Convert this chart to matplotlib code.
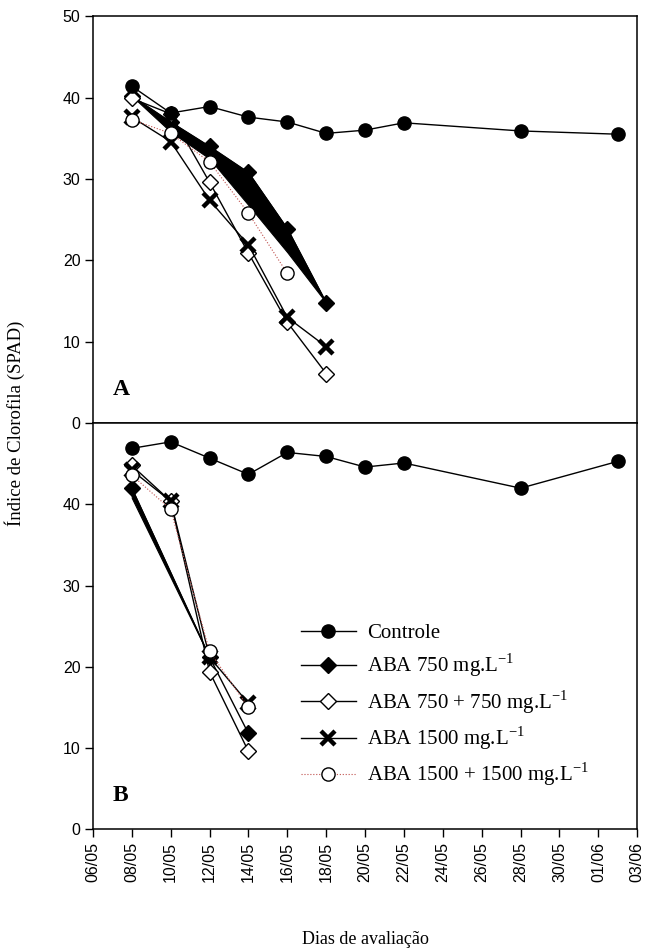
import matplotlib
matplotlib.use('Agg')
import matplotlib.pyplot as plt
import matplotlib.dates as mdates
import pandas as pd

plt.rcParams['font.family'] = 'Liberation Sans'
plt.rcParams['mathtext.fontset'] = 'custom'
plt.rcParams['mathtext.rm'] = 'Liberation Serif'


def dt(days):
    return pd.to_datetime([d + '/2012' for d in days], format='%d/%m/%Y')


# Datas de avaliacao
ctrl_days = ['08/05', '10/05', '12/05', '14/05', '16/05', '18/05',
             '20/05', '22/05', '28/05', '02/06']
trat_days_a = ['08/05', '10/05', '12/05', '14/05', '16/05', '18/05']
trat_days_b = ['08/05', '10/05', '12/05', '14/05']

# Painel A
ctrl_a = [41.4, 38.1, 38.9, 37.6, 37.0, 35.6, 36.0, 36.9, 35.9, 35.5]
aba750_a = [40.2, 37.0, 34.0, 30.8, 23.9, 14.8]
aba750_a_band = [40.2, 35.8, 32.5, 26.8, 21.0, 14.8]
aba750x2_a = [39.9, 38.0, 29.6, 20.9, 12.4, 6.1]
aba1500_a = [37.6, 34.6, 27.4, 21.9, 13.0, 9.4]
aba1500x2_a = [37.3, 35.6, 32.1, 25.8, 18.4]

# Painel B
ctrl_b = [46.9, 47.7, 45.7, 43.7, 46.4, 45.9, 44.6, 45.1, 42.0, 45.3]
aba750_b_days = ['08/05', '12/05', '14/05']
aba750_b = [42.0, 21.2, 11.8]
aba750_b_band_days = ['08/05', '12/05']
aba750_b_band = [40.8, 21.2]
aba750x2_b = [44.8, 40.4, 19.4, 9.6]
aba1500_b = [44.2, 40.4, 21.2, 15.5]
aba1500x2_b = [43.6, 39.4, 21.9, 15.0]

labels = ['Controle',
          'ABA 750 mg.L$^{\\mathregular{-1}}$',
          'ABA 750 + 750 mg.L$^{\\mathregular{-1}}$',
          'ABA 1500 mg.L$^{\\mathregular{-1}}$',
          'ABA 1500 + 1500 mg.L$^{\\mathregular{-1}}$']

fig = plt.figure(figsize=(6.45, 9.51), dpi=100)
axA = fig.add_axes([0.144, 0.555, 0.844, 0.428])
axB = fig.add_axes([0.144, 0.128, 0.844, 0.427], sharex=axA)

ln = dict(color='black', lw=1.0)
ms = 9.5


def draw(ax, days_t, ctrl, a750, a750_days, band, band_days, a750x2, a1500, a1500x2, days_c):
    h = []
    h += ax.plot(dt(ctrl_days), ctrl, marker='o', ms=ms, mfc='black', mec='black',
                 zorder=4, **ln)
    top = dict(zip(a750_days, a750))
    ax.fill_between(dt(band_days), [top[d] for d in band_days], band,
                    color='black', lw=0.8)
    h += ax.plot(dt(a750_days), a750, marker='D', ms=8, mfc='black', mec='black', **ln)
    h += ax.plot(dt(days_t), a750x2, marker='D', ms=8, mfc='white', mec='black', mew=1.0, **ln)
    h += ax.plot(dt(days_t), a1500, marker='x', ms=9.5, mec='black', mew=3.2, **ln)
    h += ax.plot(dt(days_c), a1500x2, marker='o', ms=ms, mfc='white', mec='black', mew=1.0,
                 color='#c0504d', lw=0.8, ls=':')
    return h


draw(axA, trat_days_a, ctrl_a, aba750_a, trat_days_a, aba750_a_band, trat_days_a,
     aba750x2_a, aba1500_a, aba1500x2_a, trat_days_a[:5])
handles = draw(axB, trat_days_b, ctrl_b, aba750_b, aba750_b_days, aba750_b_band,
               aba750_b_band_days, aba750x2_b, aba1500_b, aba1500x2_b, trat_days_b)

ticks = pd.date_range('2012-05-06', '2012-06-03', freq='2D')
axB.set_xlim(ticks[0], ticks[-1])
axB.set_xticks(ticks)
axB.xaxis.set_major_formatter(mdates.DateFormatter('%d/%m'))
plt.setp(axB.get_xticklabels(), rotation=90)

axA.set_ylim(0, 50)
axA.set_yticks(range(0, 51, 10))
axB.set_ylim(0, 50)
axB.set_yticks(range(0, 41, 10))
axA.tick_params(axis='x', bottom=False, labelbottom=False)

for ax in (axA, axB):
    ax.tick_params(direction='out', length=5.5, width=1.0, labelsize=11.5)
    for s in ax.spines.values():
        s.set_linewidth(1.1)

axA.text(0.037, 0.069, 'A', transform=axA.transAxes, fontfamily='Liberation Serif',
         fontweight='bold', fontsize=17)
axB.text(0.037, 0.069, 'B', transform=axB.transAxes, fontfamily='Liberation Serif',
         fontweight='bold', fontsize=17)

axB.legend(handles, labels, loc='upper left', bbox_to_anchor=(0.383, 0.507), frameon=False,
           borderpad=0, borderaxespad=0, handlelength=2.6, handletextpad=0.55,
           labelspacing=0.42, prop={'family': 'Liberation Serif', 'size': 15})

fig.text(0.023, 0.555, 'Índice de Clorofila (SPAD)', rotation=90, va='center', ha='center',
         fontfamily='Liberation Serif', fontsize=13.5)
fig.text(0.566, 0.0116, 'Dias de avaliação', ha='center', va='center',
         fontfamily='Liberation Serif', fontsize=13)

fig.savefig('out.png', dpi=100)
